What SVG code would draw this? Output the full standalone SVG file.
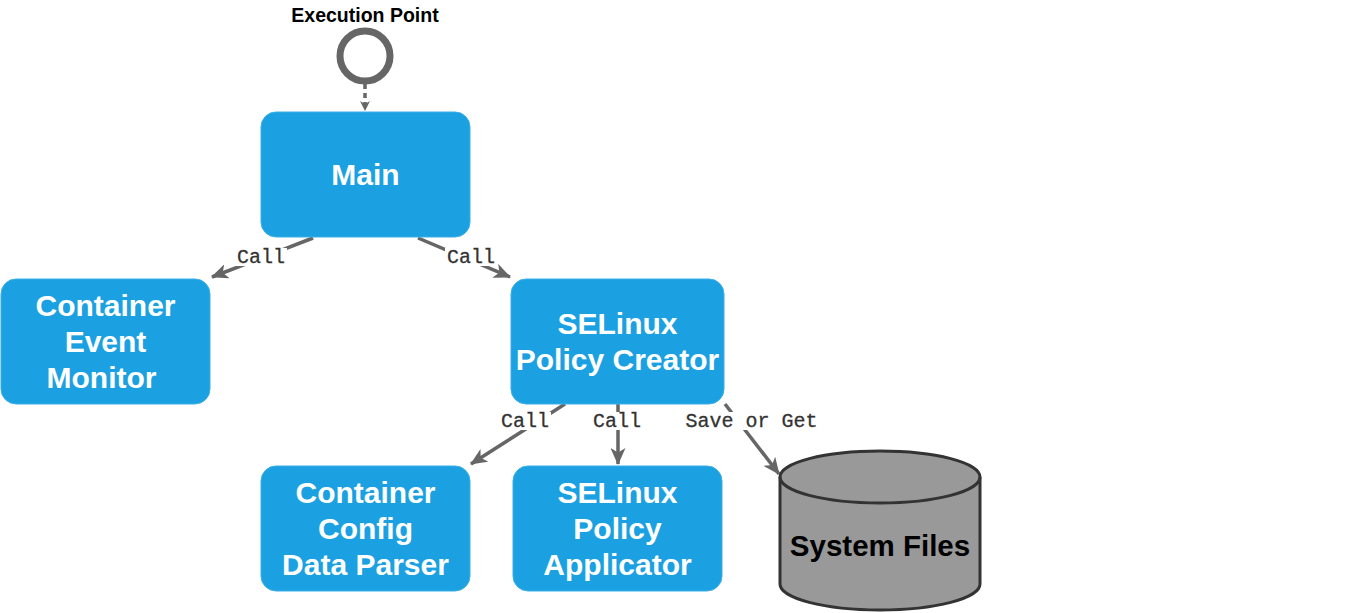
<svg xmlns="http://www.w3.org/2000/svg" width="1372" height="613" viewBox="0 0 1372 613">
<defs>
<style>
.node{fill:#1ba1e2;stroke:#3aaee6;stroke-width:1}
.nt{font-family:"Liberation Sans",Arial,sans-serif;font-weight:bold;font-size:30px;fill:#ffffff;text-anchor:middle}
.edge{fill:none;stroke:#666666;stroke-width:3.5}
.lbl{font-family:"Liberation Mono","Courier New",monospace;font-size:20px;fill:#333333;stroke:#333333;stroke-width:0.3;text-anchor:middle}
.lblbg{fill:#ffffff}
</style>
<marker id="arr" viewBox="0 0 17 15" refX="16" refY="7.5" markerWidth="17" markerHeight="15" markerUnits="userSpaceOnUse" orient="auto">
<path d="M0,0 L17,7.5 L0,15 L4.5,7.5 Z" fill="#666666"/>
</marker>
<marker id="arrs" viewBox="0 0 10 10" refX="9" refY="5" markerWidth="10" markerHeight="10" markerUnits="userSpaceOnUse" orient="auto">
<path d="M0,0 L10,5 L0,10 L3,5 Z" fill="#666666"/>
</marker>
</defs>
<rect width="1372" height="613" fill="#ffffff"/>

<g id="connectors">
<path class="edge" stroke-width="2.5" stroke-dasharray="5,4" d="M365,84 L365,110" marker-end="url(#arrs)"/>
<path class="edge" d="M313,238 L212,277" marker-end="url(#arr)"/>
<path class="edge" d="M418,238 L510,277" marker-end="url(#arr)"/>
<path class="edge" d="M565,404 L471,464" marker-end="url(#arr)"/>
<path class="edge" d="M618,404 L618,464" marker-end="url(#arr)"/>
<path class="edge" d="M725,404 L779,474" marker-end="url(#arr)"/>
<rect class="lblbg" x="235" y="248" width="52" height="18"/>
<text class="lbl" x="261" y="263">Call</text>
<rect class="lblbg" x="445" y="248" width="52" height="18"/>
<text class="lbl" x="471" y="263">Call</text>
<rect class="lblbg" x="499" y="412" width="52" height="18"/>
<text class="lbl" x="525" y="427">Call</text>
<rect class="lblbg" x="591" y="412" width="52" height="18"/>
<text class="lbl" x="617" y="427">Call</text>
<rect class="lblbg" x="683" y="412" width="137" height="18"/>
<text class="lbl" x="751.5" y="427">Save or Get</text>
</g>

<g id="execution-point">
<text x="365" y="22" font-family="Liberation Sans,Arial,sans-serif" font-weight="bold" font-size="19.5" fill="#000000" text-anchor="middle">Execution Point</text>
<circle cx="365" cy="56" r="25" fill="#ffffff" stroke="#666666" stroke-width="7"/>
</g>

<g id="main">
<rect class="node" x="261" y="112" width="209" height="125" rx="15"/>
<text class="nt" x="365.5" y="185">Main</text>
</g>

<g id="container-event-monitor">
<rect class="node" x="1" y="279" width="209" height="125" rx="15"/>
<text class="nt" x="105.5" y="316">Container</text>
<text class="nt" x="105.5" y="352">Event</text>
<text class="nt" x="101.5" y="388">Monitor</text>
</g>

<g id="selinux-policy-creator">
<rect class="node" x="511" y="279" width="213" height="125" rx="15"/>
<text class="nt" x="617.5" y="334">SELinux</text>
<text class="nt" x="617.5" y="370">Policy Creator</text>
</g>

<g id="container-config-data-parser">
<rect class="node" x="261" y="466" width="209" height="125" rx="15"/>
<text class="nt" x="365.5" y="503">Container</text>
<text class="nt" x="365.5" y="539">Config</text>
<text class="nt" x="365.5" y="575">Data Parser</text>
</g>

<g id="selinux-policy-applicator">
<rect class="node" x="513" y="466" width="209" height="125" rx="15"/>
<text class="nt" x="617.5" y="503">SELinux</text>
<text class="nt" x="617.5" y="539">Policy</text>
<text class="nt" x="617.5" y="575">Applicator</text>
</g>

<g id="system-files">
<path d="M780,477 A100,26 0 0 1 980,477 L980,584 A100,26 0 0 1 780,584 Z" fill="#999999" stroke="#333333" stroke-width="3"/>
<path d="M780,477 A100,26 0 0 0 980,477" fill="none" stroke="#333333" stroke-width="3"/>
<text x="880" y="556" font-family="Liberation Sans,Arial,sans-serif" font-weight="bold" font-size="29.5" fill="#000000" text-anchor="middle">System Files</text>
</g>
</svg>
